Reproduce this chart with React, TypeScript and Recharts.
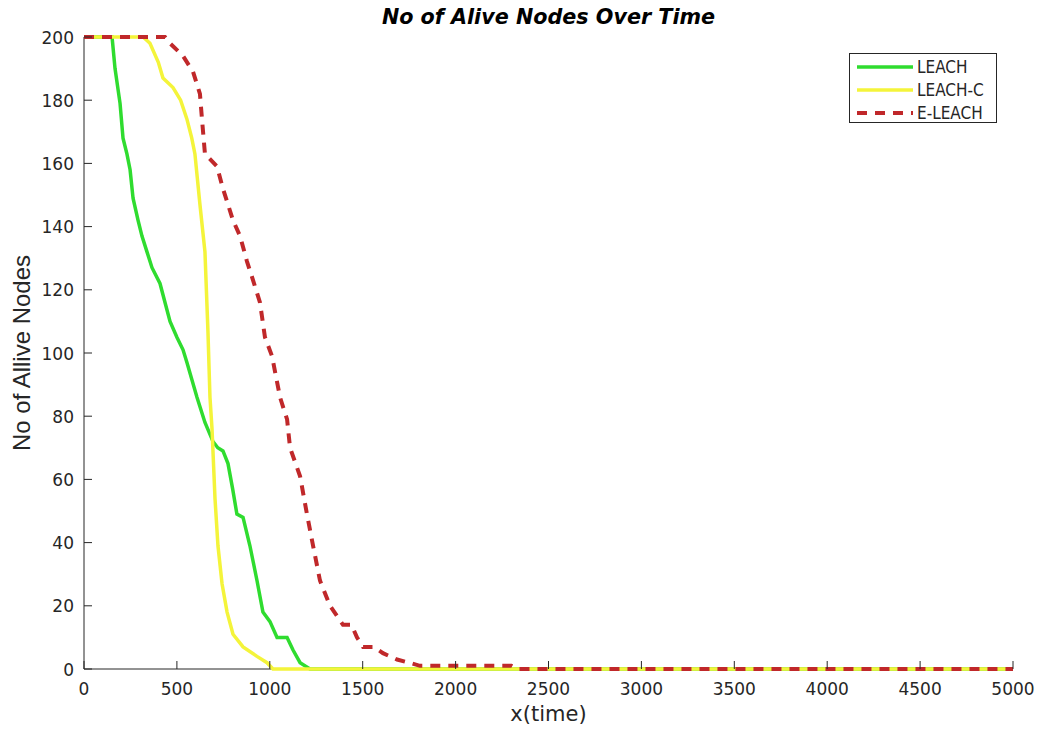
import { LineChart, Line, XAxis, YAxis } from "recharts";

// [time, alive nodes]
const leach = [
  [0, 200], [151, 200], [167, 190], [194, 179], [210, 168], [231, 163], [248, 158], [264, 149],
  [291, 142], [312, 137], [339, 132], [366, 127], [409, 122], [436, 116], [463, 110], [500, 105],
  [533, 101], [554, 97], [608, 86], [651, 78], [694, 72], [720, 70], [748, 69], [775, 65],
  [800, 57], [823, 49], [856, 48], [893, 39], [931, 28], [963, 18], [1001, 15], [1039, 10],
  [1093, 10], [1125, 6], [1163, 2], [1216, 0], [5000, 0],
];
const leachC = [
  [0, 200], [318, 200], [355, 198], [400, 192], [425, 187], [479, 184], [520, 180], [554, 174],
  [580, 168], [597, 163], [624, 147], [651, 132], [667, 107], [678, 86], [689, 76], [705, 54],
  [721, 39], [743, 27], [770, 18], [802, 11], [856, 7], [931, 4], [985, 2], [1017, 0], [5000, 0],
];
const eLeach = [
  [0, 200], [436, 200], [463, 198], [533, 194], [587, 189], [624, 182], [635, 174], [651, 163],
  [716, 159], [748, 152], [802, 142], [840, 137], [877, 129], [910, 123], [947, 116], [974, 105],
  [1012, 99], [1055, 86], [1093, 79], [1109, 70], [1163, 61], [1200, 49], [1233, 39], [1270, 28],
  [1324, 20], [1394, 14], [1440, 14], [1469, 10], [1502, 7], [1560, 7], [1609, 5], [1685, 3],
  [1750, 2], [1808, 1], [2300, 1], [2330, 0], [5000, 0],
];

const xTicks = [0, 500, 1000, 1500, 2000, 2500, 3000, 3500, 4000, 4500, 5000];
const yTicks = [0, 20, 40, 60, 80, 100, 120, 140, 160, 180, 200];

const series = [
  { name: "LEACH", points: leach, color: "#2fdc2f", dash: undefined, width: 3.5 },
  { name: "LEACH-C", points: leachC, color: "#f4f43a", dash: undefined, width: 3.5 },
  { name: "E-LEACH", points: eLeach, color: "#c0282a", dash: "10 8", width: 4 },
];

const AXIS = "#262626";
const TICK_FONT = "'DejaVu Sans', sans-serif";
const TICK_LEN = 8;

const toRows = (pts: number[][]) => pts.map(([t, n]) => ({ t, n }));

function BottomTick({ x, y, payload }: any) {
  return (
    <g>
      <line x1={x} x2={x} y1={y} y2={y - TICK_LEN} stroke={AXIS} />
      <text x={x} y={y + 26} textAnchor="middle" fill={AXIS} fontSize={17} fontFamily={TICK_FONT}>
        {payload.value}
      </text>
    </g>
  );
}
function TopTick({ x, y }: any) {
  return <line x1={x} x2={x} y1={y} y2={y + TICK_LEN} stroke={AXIS} />;
}
function LeftTick({ x, y, payload }: any) {
  return (
    <g>
      <line x1={x} x2={x + TICK_LEN} y1={y} y2={y} stroke={AXIS} />
      <text x={x - 10} y={y + 6.5} textAnchor="end" fill={AXIS} fontSize={17} fontFamily={TICK_FONT}>
        {payload.value}
      </text>
    </g>
  );
}
function RightTick({ x, y }: any) {
  return <line x1={x} x2={x - TICK_LEN} y1={y} y2={y} stroke={AXIS} />;
}

export default function App() {
  return (
    <div style={{ position: "absolute", left: 0, top: 0, width: 1043, height: 734, background: "#fff" }}>
      <LineChart width={1043} height={734} margin={{ top: 37, right: 30, bottom: 0, left: 0 }}>
        <XAxis
          xAxisId="b" type="number" dataKey="t" domain={[0, 5000]} ticks={xTicks} height={65}
          tickSize={0} tickMargin={0} tickLine={false} tick={<BottomTick />} interval={0}
          axisLine={{ stroke: AXIS }}
        />
        <XAxis
          xAxisId="t" orientation="top" type="number" dataKey="t" domain={[0, 5000]} ticks={xTicks}
          height={0} tickSize={0} tickMargin={0} tickLine={false} tick={<TopTick />} interval={0}
          axisLine={{ stroke: AXIS }}
        />
        <YAxis
          yAxisId="l" type="number" domain={[0, 200]} ticks={yTicks} width={84} tickSize={0}
          tickMargin={0} tickLine={false} tick={<LeftTick />} interval={0} axisLine={{ stroke: AXIS }}
        />
        <YAxis
          yAxisId="r" orientation="right" type="number" domain={[0, 200]} ticks={yTicks} width={0}
          tickSize={0} tickMargin={0} tickLine={false} tick={<RightTick />} interval={0}
          axisLine={{ stroke: AXIS }}
        />
        {series.map((s, i) => (
          <Line
            key={s.name}
            xAxisId="b"
            yAxisId="l"
            data={toRows(s.points)}
            dataKey="n"
            name={s.name}
            type="linear"
            stroke={s.color}
            strokeWidth={s.width}
            strokeDasharray={s.dash}
            dot={false}
            activeDot={false}
            isAnimationActive={false}
            zIndex={600 + i}
          />
        ))}
      </LineChart>

      {/* title and axis labels */}
      <div
        style={{
          position: "absolute", left: 84, width: 929, top: 5, textAlign: "center",
          fontFamily: TICK_FONT, fontWeight: "bold", fontStyle: "italic", fontSize: 20.7, color: "#000",
          lineHeight: "24px",
        }}
      >
        No of Alive Nodes Over Time
      </div>
      <div
        style={{
          position: "absolute", left: 84, width: 929, top: 701, textAlign: "center",
          fontFamily: TICK_FONT, fontSize: 21, color: AXIS, lineHeight: "26px",
        }}
      >
        x(time)
      </div>
      <div style={{ position: "absolute", left: 22, top: 353, width: 0, height: 0 }}>
        <div
          style={{
            position: "absolute", left: 0, top: 0, transform: "translate(-50%, -50%) rotate(-90deg)",
            whiteSpace: "nowrap", fontFamily: "'Liberation Sans', Arial, sans-serif", fontSize: 24,
            color: AXIS, lineHeight: "26px",
          }}
        >
          No of Allive Nodes
        </div>
      </div>

      {/* legend */}
      <div
        style={{
          position: "absolute", left: 849, top: 53, width: 146, height: 68, border: "1px solid #262626",
          background: "#fff", fontFamily: "'Liberation Sans Narrow', 'DejaVu Sans Condensed', sans-serif",
          fontSize: 17, color: AXIS,
        }}
      >
        {series.map((s, i) => (
          <div key={s.name} style={{ position: "absolute", left: 6, top: 3 + i * 23, height: 20, display: "flex", alignItems: "center" }}>
            <svg width={58} height={20} style={{ display: "block" }}>
              <line x1={1} x2={57} y1={10} y2={10} stroke={s.color} strokeWidth={s.width} strokeDasharray={s.dash} />
            </svg>
            <span style={{ marginLeft: 3, lineHeight: "20px" }}>{s.name}</span>
          </div>
        ))}
      </div>
    </div>
  );
}
